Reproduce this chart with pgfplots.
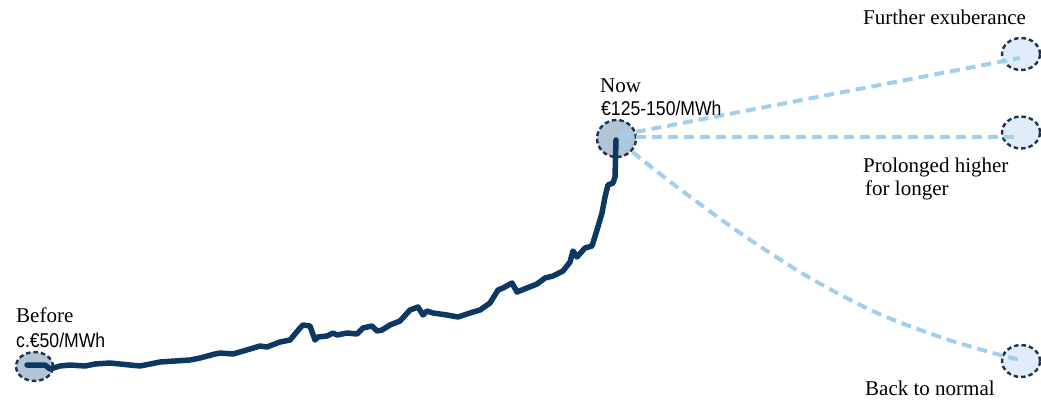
\documentclass[border=0pt]{standalone}
\usepackage{pgfplots}
\pgfplotsset{compat=1.18}
\usepackage{fontspec}
\setmainfont{Liberation Serif}
\newfontfamily\sansnarrow[FakeStretch=0.88]{Liberation Sans}
\definecolor{navy}{RGB}{12,56,98}
\definecolor{ringc}{RGB}{30,50,78}
\definecolor{dashblue}{RGB}{163,206,236}
\definecolor{fillgray}{RGB}{178,197,214}
\definecolor{filllight}{RGB}{222,237,249}
\begin{document}
\begin{tikzpicture}
\begin{axis}[width=1041pt,height=400pt,scale only axis,clip mode=individual,
  xmin=0,xmax=1041,ymin=0,ymax=400,axis lines=none,clip=false]
\path (axis cs:0,0) rectangle (axis cs:1041,400);
% highlight circles
\addplot[only marks,mark=*,mark size=18.5pt,mark options={yscale=0.78,fill=fillgray,draw=ringc,line width=2.4pt,dash pattern=on 4.5pt off 3pt}] coordinates {(34.5,33.5)};
\addplot[only marks,mark=*,mark size=19.5pt,mark options={yscale=0.95,fill=fillgray,draw=ringc,line width=2.4pt,dash pattern=on 4.5pt off 3pt}] coordinates {(616.5,261.5)};
\addplot[only marks,mark=*,mark size=19pt,mark options={yscale=0.84,fill=filllight,draw=ringc,line width=2.4pt,dash pattern=on 4.5pt off 3pt}] coordinates {(1021,346) (1021,267.5) (1021,39)};
% scenario lines
\addplot[dashblue,line width=4pt,dash pattern=on 10pt off 6pt] coordinates {(620,265) (1020,342)};
\addplot[dashblue,line width=4pt,dash pattern=on 10pt off 6pt] coordinates {(620,263) (1020,263)};
\addplot[dashblue,line width=4pt,dash pattern=on 10pt off 6pt,smooth] coordinates {(620,258) (677,213) (743,165) (810,122) (877,87) (943,62) (993,47) (1020,40)};
% price history
\addplot[navy,line width=5.5pt,line join=round,line cap=round] coordinates {
(27,35)(45,35)(50,31)(60,34)(70,35)(85,34)(95,36)(110,37)(120,36)(130,35)(140,34)(150,36)(160,38)(175,39)(190,40)(200,42)(215,46)(220,47)(233,46)(250,51)(260,54)(267,53)(280,58)(290,60)(300,72)(303,75)(310,74)(315,60)(318,63)(327,64)(333,67)(337,65)(347,67)(357,66)(363,72)(372,74)(377,69)(382,70)(390,75)(400,79)(410,90)(418,93)(423,85)(427,89)(433,87)(447,85)(458,83)(470,87)(480,90)(490,97)(498,110)(503,112)(512,117)(517,108)(527,112)(537,116)(545,122)(553,124)(563,129)(570,138)(573,149)(577,143)(585,152)(592,154)(597,170)(602,187)(605,203)(608,215)(613,217)(615,223)(616,260)};
% labels
\node[anchor=base west,inner sep=0pt,font=\fontsize{21}{23}\selectfont] at (axis cs:16,78) {Before};
\node[anchor=base west,inner sep=0pt,font=\sansnarrow\fontsize{20}{22}\selectfont] at (axis cs:16,53) {c.€50/MWh};
\node[anchor=base west,inner sep=0pt,font=\fontsize{21}{23}\selectfont] at (axis cs:600,308) {Now};
\node[anchor=base west,inner sep=0pt,font=\sansnarrow\fontsize{20}{22}\selectfont] at (axis cs:601,285) {€125-150/MWh};
\node[anchor=base west,inner sep=0pt,font=\fontsize{21}{23}\selectfont] at (axis cs:863,375) {Further exuberance};
\node[anchor=base west,inner sep=0pt,font=\fontsize{21}{23}\selectfont] at (axis cs:863,228) {Prolonged higher};
\node[anchor=base west,inner sep=0pt,font=\fontsize{21}{23}\selectfont] at (axis cs:865,205) {for longer};
\node[anchor=base west,inner sep=0pt,font=\fontsize{21}{23}\selectfont] at (axis cs:865,5) {Back to normal};
\end{axis}
\end{tikzpicture}
\end{document}
